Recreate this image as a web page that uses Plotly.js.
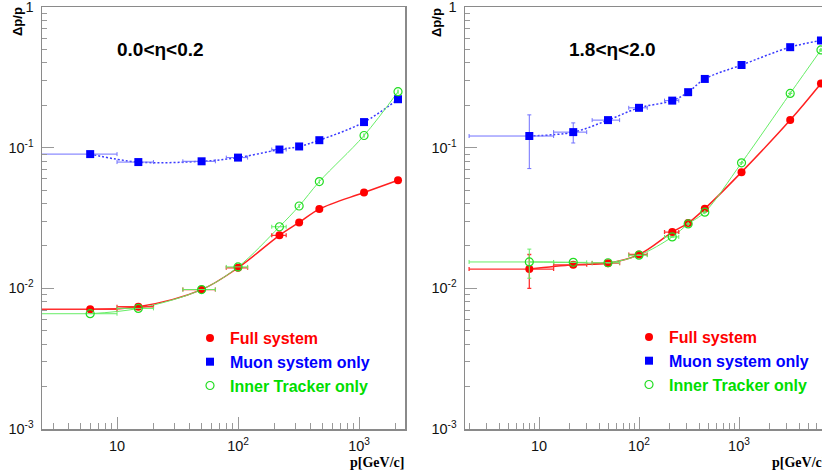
<!DOCTYPE html>
<html>
<head>
<meta charset="utf-8">
<script src="https://cdn.plot.ly/plotly-3.0.1.min.js"></script>
<style>html,body{margin:0;padding:0;background:#fff;}#chart{width:822px;height:472px;}</style>
</head>
<body>
<div id="chart"></div>
<script>
// ---- data ----
// Left panel: 0.0 < eta < 0.2
const pLeft      = [6, 15, 50, 100, 220, 320, 470, 1100, 2100];
const pErrLeft   = [4, 5, 15, 20, 30, 0, 0, 0, 0];
const fullLeft   = [0.0071, 0.0074, 0.0098, 0.0140, 0.0238, 0.0294, 0.0366, 0.048, 0.0587];
const muonLeft   = [0.090, 0.079, 0.080, 0.085, 0.097, 0.102, 0.113, 0.152, 0.221];
const innerLeft  = [0.0066, 0.0072, 0.0098, 0.0142, 0.0274, 0.0385, 0.0574, 0.122, 0.250];

// Right panel: 1.8 < eta < 2.0
const pRight        = [8, 22, 49, 100, 215, 310, 455, 1060, 3250, 6600];
const pErrRight     = [6, 8, 15, 21, 35, 0, 0, 0, 0, 0];
const fullRight     = [0.0137, 0.0147, 0.0151, 0.0174, 0.0251, 0.0291, 0.0368, 0.067, 0.157, 0.286];
const fullErrRight  = [0.0037, 0.0005, 0.0003, 0.0004, 0, 0, 0, 0, 0, 0];
const muonRight     = [0.121, 0.129, 0.157, 0.192, 0.216, 0.248, 0.308, 0.387, 0.518, 0.578];
const muonErrRight  = [0.050, 0.021, 0.005, 0.005, 0, 0, 0, 0, 0, 0];
const innerRight    = [0.0154, 0.0153, 0.0152, 0.0172, 0.0232, 0.0287, 0.0348, 0.078, 0.243, 0.495];
const innerErrRight = [0.0036, 0, 0, 0, 0, 0, 0, 0, 0, 0];

const seriesNames = ['Full system', 'Muon system only', 'Inner Tracker only'];
const xTickVals = [10, 100, 1000];
const xTickText = ['10', '10<sup>2</sup>', '10<sup>3</sup>'];
const yTickVals = [0.001, 0.01, 0.1, 1];
const yTickText = ['10<sup>-3</sup>', '10<sup>-2</sup>', '10<sup>-1</sup>', '1'];
const panelLabels = ['0.0&lt;η&lt;0.2', '1.8&lt;η&lt;2.0'];

// ---- styling ----
const RED = '#ff0000', BLUE = '#0000ff', GREEN = '#00dd00';
const W = 822, H = 472;
const px = v => v / W, py = v => 1 - v / H;

function minorVals(maxDec) {
  const out = [];
  for (let d = -3; d <= maxDec; d++) for (let m = 2; m <= 9; m++) out.push(m * Math.pow(10, d));
  return out;
}

const series = [
  {name: seriesNames[0], color: RED,  line: {color: '#ff2020', width: 1.5}, err: '#ff3030',
   marker: {symbol: 'circle', size: 8, color: RED}},
  {name: seriesNames[1], color: BLUE, line: {color: '#3a3aff', width: 1.5, dash: '2px,2px'}, err: '#7070ff',
   marker: {symbol: 'square', size: 8, color: BLUE}},
  {name: seriesNames[2], color: GREEN, line: {color: '#66ee66', width: 1}, err: '#66ee66',
   marker: {symbol: 'circle-open', size: 8, color: '#22dd22', line: {width: 1.2}}}
];

const panels = [
  {xa: 'x', ya: 'y', legend: 'legend', p: pLeft, pe: pErrLeft,
   ys: [fullLeft, muonLeft, innerLeft], ye: [null, null, null]},
  {xa: 'x2', ya: 'y2', legend: 'legend2', p: pRight, pe: pErrRight,
   ys: [fullRight, muonRight, innerRight], ye: [fullErrRight, muonErrRight, innerErrRight]}
];

const traces = [];
panels.forEach(pn => {
  series.forEach((s, i) => {
    traces.push({x: pn.p, y: pn.ys[i], xaxis: pn.xa, yaxis: pn.ya, mode: 'lines',
      line: Object.assign({shape: 'spline'}, s.line), showlegend: false, hoverinfo: 'skip'});
  });
});
panels.forEach(pn => {
  series.forEach((s, i) => {
    const t = {x: pn.p, y: pn.ys[i], xaxis: pn.xa, yaxis: pn.ya, mode: 'markers',
      name: '<span style="color:' + s.color + '">' + s.name + '</span>',
      marker: s.marker, legend: pn.legend, legendgroup: pn.legend + i,
      error_x: {type: 'data', array: pn.pe, color: s.err, thickness: i === 0 ? 1.3 : 1, width: 2}};
    if (pn.ye[i]) t.error_y = {type: 'data', array: pn.ye[i], color: s.err, thickness: i === 0 ? 1.3 : 1, width: 2};
    traces.push(t);
  });
});

const axisCommon = {
  type: 'log', showgrid: false, zeroline: false,
  showline: true, linecolor: '#8a8a8a', linewidth: 1.5, mirror: true,
  ticks: 'inside', ticklen: 12, tickwidth: 1, tickcolor: '#999',
  tickfont: {family: 'Liberation Sans, Arial, sans-serif', size: 14.5, color: '#111'},
  tickmode: 'array', ticklabeloverflow: 'allow'
};
const xBase = Object.assign({}, axisCommon, {tickvals: xTickVals, ticktext: xTickText, ticklabelstandoff: 3,
  minor: {tickvals: minorVals(3), ticks: 'inside', ticklen: 6, tickwidth: 1, tickcolor: '#999'}});
const yBase = Object.assign({}, axisCommon, {tickvals: yTickVals, ticktext: yTickText, range: [-3, 0],
  ticklabelstandoff: 4,
  minor: {tickvals: minorVals(-1), ticks: 'inside', ticklen: 5, tickwidth: 1, tickcolor: '#999'}});

const yDom = [(H - 429) / H, (H - 7) / H];
const legendCommon = {bgcolor: 'rgba(0,0,0,0)', borderwidth: 0, xanchor: 'left', yanchor: 'top',
  font: {family: 'Liberation Sans, Arial, sans-serif', size: 16, weight: 'bold'}, tracegroupgap: 0,
  itemwidth: 30};

const annFont = {family: 'Liberation Sans, Arial, sans-serif', size: 19, color: '#000', weight: 'bold'};
const titleFont = {family: 'Liberation Sans, Arial, sans-serif', size: 13, color: '#000', weight: 'bold'};
const pFont = {family: 'Liberation Serif, Times New Roman, serif', size: 14, color: '#000', weight: 'bold'};
const ann = (text, x, y, font, extra) => Object.assign({text, x: px(x), y: py(y), xref: 'paper', yref: 'paper',
  xanchor: 'center', yanchor: 'middle', showarrow: false, font}, extra || {});

const layout = {
  width: W, height: H, margin: {l: 0, r: 0, t: 0, b: 0},
  paper_bgcolor: '#fff', plot_bgcolor: '#fff', showlegend: true,
  xaxis: Object.assign({}, xBase, {domain: [42 / W, 405 / W], range: [0.38, 3.38], anchor: 'y'}),
  yaxis: Object.assign({}, yBase, {domain: yDom, anchor: 'x'}),
  xaxis2: Object.assign({}, xBase, {domain: [465 / W, 1], range: [0.26, 3.83], anchor: 'y2'}),
  yaxis2: Object.assign({}, yBase, {domain: yDom, anchor: 'x2'}),
  legend: Object.assign({}, legendCommon, {x: px(190), y: py(321)}),
  legend2: Object.assign({}, legendCommon, {x: px(629), y: py(320)}),
  annotations: [
    ann(panelLabels[0], 160, 50, annFont),
    ann(panelLabels[1], 612, 50, annFont),
    ann('Δp/p', 18, 22, titleFont, {textangle: -90}),
    ann('Δp/p', 437, 22, titleFont, {textangle: -90}),
    ann('p[GeV/c]', 406, 462, pFont, {xanchor: 'right'}),
    ann('p[GeV/c]', 770, 462, pFont, {xanchor: 'left'})
  ]
};

Plotly.newPlot('chart', traces, layout, {staticPlot: true, displayModeBar: false});
</script>
</body>
</html>
